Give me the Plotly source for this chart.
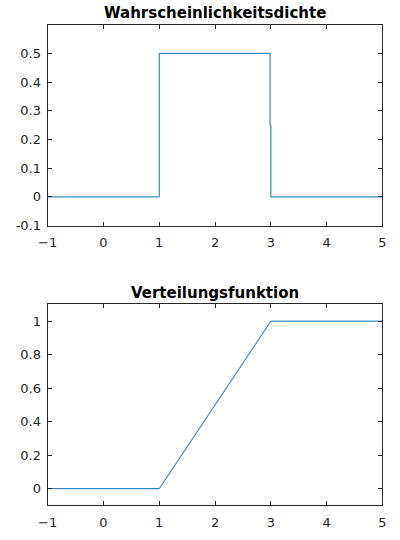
import plotly.graph_objects as go

# Density data
pdf_x = [-1, 1, 1, 2.985, 2.985, 3.0, 3.0, 5]
pdf_y = [0, 0, 0.5, 0.5, 0.25, 0.25, 0, 0]
# Distribution function data
cdf_x = [-1, 1, 3, 5]
cdf_y = [0, 0, 1, 1]

x_ticks = [-1, 0, 1, 2, 3, 4, 5]
pdf_yticks = [-0.1, 0, 0.1, 0.2, 0.3, 0.4, 0.5]
cdf_yticks = [0, 0.2, 0.4, 0.6, 0.8, 1]
pdf_ticklabels = ["-0.1", "0", "0.1", "0.2", "0.3", "0.4", "0.5"]
cdf_ticklabels = ["0", "0.2", "0.4", "0.6", "0.8", "1"]

title_top = "Wahrscheinlichkeitsdichte"
title_bottom = "Verteilungsfunktion"

line_color = "#0072BD"
axis_color = "#262626"
font = "DejaVu Sans"

W, H = 400, 540


def px_x(p):
    return p / W


def px_y(p):
    return 1 - p / H


fig = go.Figure()
fig.add_trace(go.Scatter(x=pdf_x, y=pdf_y, mode="lines",
                         line=dict(color=line_color, width=1),
                         xaxis="x", yaxis="y", showlegend=False, hoverinfo="skip"))
fig.add_trace(go.Scatter(x=cdf_x, y=cdf_y, mode="lines",
                         line=dict(color=line_color, width=1),
                         xaxis="x2", yaxis="y2", showlegend=False, hoverinfo="skip"))

common_axis = dict(showgrid=False, zeroline=False, showline=True, linecolor=axis_color,
                   linewidth=1, mirror="allticks", ticks="inside", ticklen=4,
                   tickcolor=axis_color, tickfont=dict(family=font, size=13, color=axis_color))

xdom = [px_x(39), px_x(386)]
fig.update_layout(
    width=W, height=H,
    margin=dict(l=0, r=0, t=0, b=0),
    paper_bgcolor="white", plot_bgcolor="white",
    xaxis=dict(domain=xdom, range=[-1, 5], tickvals=x_ticks, anchor="y",
               ticklabelstandoff=5, **common_axis),
    yaxis=dict(domain=[px_y(229), px_y(25)], range=[-0.1, 0.6],
               tickvals=pdf_yticks, ticktext=pdf_ticklabels, anchor="x",
               ticklabelstandoff=3, **common_axis),
    xaxis2=dict(domain=xdom, range=[-1, 5], tickvals=x_ticks, anchor="y2",
                ticklabelstandoff=5, **common_axis),
    yaxis2=dict(domain=[px_y(513), px_y(309)], range=[-0.1, 1.1],
                tickvals=cdf_yticks, ticktext=cdf_ticklabels, anchor="x2",
                ticklabelstandoff=3, **common_axis),
    annotations=[
        dict(text="<b>" + title_top + "</b>", x=px_x(212), y=px_y(13.5),
             xref="paper", yref="paper", showarrow=False, xanchor="center", yanchor="middle",
             font=dict(family=font, size=15, color="black")),
        dict(text="<b>" + title_bottom + "</b>", x=px_x(212), y=px_y(297),
             xref="paper", yref="paper", showarrow=False, xanchor="center", yanchor="middle",
             font=dict(family=font, size=15, color="black")),
    ],
)

fig.write_html("out.html", config={"displayModeBar": False},
               post_script="document.body.style.margin='0';")
